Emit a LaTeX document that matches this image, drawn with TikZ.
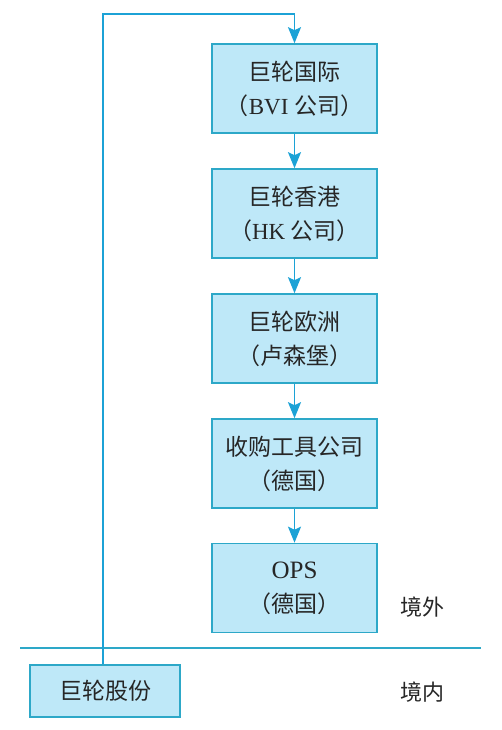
\documentclass[tikz,border=0pt]{standalone}
\usepackage{fontspec}
\setmainfont{Liberation Serif}
\newfontfamily\cjk{Noto Sans CJK SC}
\usetikzlibrary{arrows.meta}
\definecolor{boxfill}{RGB}{190,232,248}
\definecolor{boxline}{RGB}{45,168,200}
\definecolor{arrowc}{RGB}{28,162,214}
\begin{document}
\begin{tikzpicture}[x=1pt,y=-1pt,
  company/.style={draw=boxline,fill=boxfill,line width=1.6pt,minimum width=165pt,minimum height=89pt,
    align=center,font=\fontsize{23}{34}\selectfont,text=black!85,inner sep=0pt},
  link/.style={draw=arrowc,line width=1.6pt,-{Stealth[length=16pt,width=13pt,inset=3pt]}},
  region/.style={font=\fontsize{22}{25}\selectfont\cjk,text=black!85}]
\useasboundingbox (0,0) rectangle (501,730);
\node[company] (bvi) at (294.5,88.5) {{\cjk 巨轮国际}\\{\cjk （}BVI {\cjk 公司）}};
\node[company] (hk) at (294.5,213.5) {{\cjk 巨轮香港}\\{\cjk （}HK {\cjk 公司）}};
\node[company] (eu) at (294.5,338.5) {{\cjk 巨轮欧洲}\\{\cjk （卢森堡）}};
\node[company] (tool) at (294.5,463.5) {{\cjk 收购工具公司}\\{\cjk （德国）}};
\node[company] (ops) at (294.5,588) {{\fontsize{25}{34}\selectfont OPS}\\{\cjk （德国）}};
\node[company,minimum width=150pt,minimum height=52pt] (jl) at (105,691) {\cjk 巨轮股份};
\node[region] (out) at (422,607) {境外};
\node[region] (in) at (422,692) {境内};
\coordinate (bl) at (20,648);
\coordinate (br) at (481,648);
\draw[draw=boxline,line width=1.4pt] (bl) -- (br);
\coordinate (c1) at (103,14);
\draw[link] (jl.north -| c1) -- (c1) -- (c1 -| bvi.north) -- (bvi.north);
\draw[link] (bvi.south) -- (hk.north);
\draw[link] (hk.south) -- (eu.north);
\draw[link] (eu.south) -- (tool.north);
\draw[link] (tool.south) -- (ops.north);
\end{tikzpicture}
\end{document}
